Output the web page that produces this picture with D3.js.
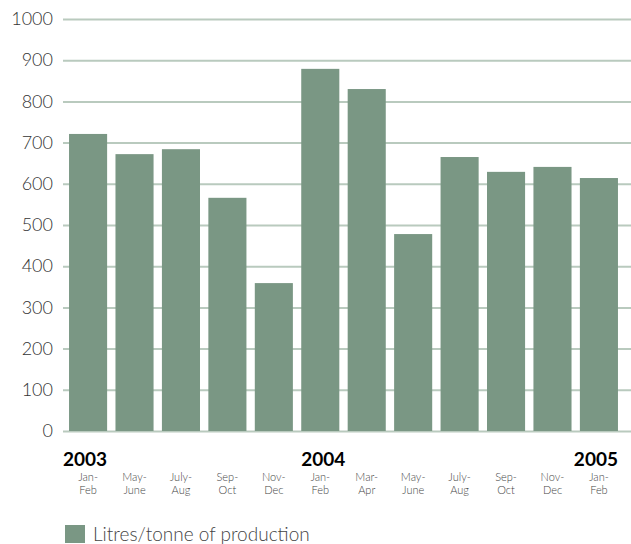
<!DOCTYPE html>
<html>
<head>
<meta charset="utf-8">
<script src="https://cdn.jsdelivr.net/npm/d3@7"></script>
<style>
  body { margin: 0; background: #fff; }
  text { font-family: Lato, "Open Sans", sans-serif; }
</style>
</head>
<body>
<div id="root"></div>
<script>
// data
const periods = ['Jan-Feb', 'May-June', 'July-Aug', 'Sep-Oct', 'Nov-Dec', 'Jan-Feb',
  'Mar-Apr', 'May-June', 'July-Aug', 'Sep-Oct', 'Nov-Dec', 'Jan-Feb'];
const values = [721, 672, 684, 566, 359, 879, 830, 478, 665, 629, 641, 614];
const years = [
  { label: '2003', index: 0, anchor: 'axis' },
  { label: '2004', index: 5, anchor: 'start' },
  { label: '2005', index: 11, anchor: 'end' },
];
const yTicks = [0, 100, 200, 300, 400, 500, 600, 700, 800, 900, 1000];
const legendLabel = 'Litres/tonne of production';

const width = 631;
const height = 544;
const barColor = '#7a9784';
const gridColor = '#b9cabe';

const svg = d3.select('#root')
  .append('svg')
  .attr('width', width)
  .attr('height', height);

const x = d3.scaleBand()
  .domain(d3.range(values.length))
  .range([63, 624])
  .paddingInner(0.18)
  .paddingOuter(0.13);

const y = d3.scaleLinear()
  .domain([0, 1000])
  .range([431, 19]);

// gridlines + y labels
const yAxis = d3.axisLeft(y)
  .tickValues(yTicks)
  .tickFormat(d3.format('d'))
  .tickSize(-(width - 63))
  .tickPadding(10);

const gy = svg.append('g')
  .attr('transform', 'translate(63,0)')
  .call(yAxis);
gy.select('.domain').remove();
gy.selectAll('.tick line')
  .attr('stroke', gridColor)
  .attr('stroke-width', 2);
gy.selectAll('.tick text')
  .attr('x', -10)
  .style('font-size', '18px')
  .style('font-weight', 300)
  .attr('fill', '#333');

// bars
svg.append('g')
  .selectAll('rect')
  .data(values)
  .join('rect')
  .attr('x', (d, i) => x(i))
  .attr('y', d => y(d))
  .attr('width', x.bandwidth())
  .attr('height', d => y(0) - y(d))
  .attr('fill', barColor);

// period labels, two lines
const periodLabels = svg.append('g')
  .selectAll('text')
  .data(periods)
  .join('text')
  .attr('text-anchor', 'middle')
  .attr('fill', '#444')
  .style('font-size', '11px')
  .style('font-weight', 300);
periodLabels.each(function(d, i) {
  const parts = d.split('-');
  const t = d3.select(this);
  const cx = x(i) + x.bandwidth() / 2;
  t.append('tspan').attr('x', cx).attr('y', 481).text(parts[0] + '-');
  t.append('tspan').attr('x', cx).attr('y', 494).text(parts[1]);
});

// year labels
svg.append('g')
  .selectAll('text')
  .data(years)
  .join('text')
  .attr('x', d => {
    if (d.anchor === 'axis') return 63;
    if (d.anchor === 'end') return x(d.index) + x.bandwidth();
    return x(d.index);
  })
  .attr('y', 466)
  .attr('text-anchor', d => (d.anchor === 'end' ? 'end' : 'start'))
  .attr('fill', '#000')
  .style('font-size', '19px')
  .style('font-weight', 700)
  .text(d => d.label);

// legend
const legend = svg.append('g').attr('transform', 'translate(65,525)');
legend.append('rect')
  .attr('width', 20)
  .attr('height', 18)
  .attr('fill', barColor);
legend.append('text')
  .attr('x', 28)
  .attr('y', 16)
  .attr('fill', '#444')
  .style('font-size', '19px')
  .style('font-weight', 300)
  .text(legendLabel);
</script>
</body>
</html>
